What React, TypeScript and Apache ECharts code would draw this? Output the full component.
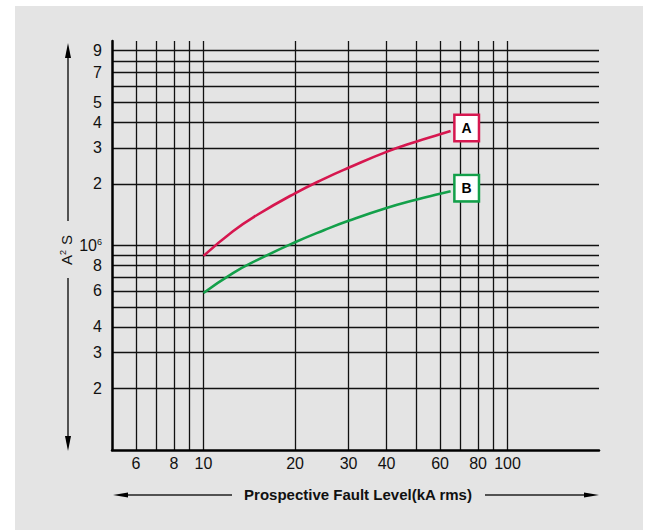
import React, { useEffect, useRef } from 'react';
import * as echarts from 'echarts';

// ---- data ----
const faultLevels = [10, 12.5, 15, 20, 25, 30, 40, 50, 60, 65]; // kA rms
const curveA = [8.9e5, 1.175e6, 1.41e6, 1.8e6, 2.125e6, 2.4e6, 2.87e6, 3.22e6, 3.5e6, 3.63e6];
const curveB = [5.86e5, 7.33e5, 8.48e5, 1.037e6, 1.191e6, 1.321e6, 1.526e6, 1.675e6, 1.792e6, 1.844e6];
const seriesNames = ['A', 'B'];
const seriesColors = ['#d6174f', '#13a04a'];

const xRange = [5, 200];
const yRange = [1e5, 1e7];
const xGridValues = [6, 7, 8, 9, 10, 20, 30, 40, 50, 60, 70, 80, 90, 100];
const xTickLabels = [6, 8, 10, 20, 30, 40, 60, 80, 100];
const yGridValues = [2e5, 3e5, 4e5, 5e5, 6e5, 7e5, 8e5, 9e5, 1e6, 2e6, 3e6, 4e6, 5e6, 6e6, 7e6, 8e6, 9e6];
const yTickLabels = [2e5, 3e5, 4e5, 6e5, 8e5, 1e6, 2e6, 3e6, 4e6, 5e6, 7e6, 9e6];
const xTitle = 'Prospective Fault Level(kA rms)';

const L = (v: number) => Math.log10(v);
const FONT = '"Liberation Sans", Arial, Helvetica, sans-serif';

export default function App() {
  const ref = useRef<HTMLDivElement>(null);

  useEffect(() => {
    if (!ref.current) return;
    const chart = echarts.init(ref.current, undefined, { renderer: 'svg' });

    const arrow = '#222';
    const makeSeries = (name: string, vals: number[], color: string, offY: number) => ({
      type: 'line',
      name,
      data: faultLevels.map((x, i) => [L(x), L(vals[i])]),
      showSymbol: false,
      smooth: 0.5,
      lineStyle: { color, width: 2.6 },
      itemStyle: { color },
      z: 5,
      endLabel: {
        show: true,
        formatter: name,
        distance: 5,
        offset: [0, offY],
        color: '#000',
        fontFamily: FONT,
        fontWeight: 'bold',
        fontSize: 14,
        backgroundColor: '#fff',
        borderColor: color,
        borderWidth: 2.5,
        padding: [5, 6, 5, 6],
      },
    });

    chart.setOption({
      animation: false,
      grid: { left: 112, right: 50, top: 41, bottom: 81, outerBoundsMode: 'none' },
      xAxis: {
        type: 'value',
        min: L(xRange[0]),
        max: L(xRange[1]),
        axisLine: { show: true, lineStyle: { color: '#000', width: 2.5 } },
        axisTick: { show: false, customValues: xGridValues.map(L) },
        splitLine: { show: true, lineStyle: { color: '#111', width: 1.3 } },
        axisLabel: {
          customValues: xTickLabels.map(L),
          formatter: (v: number) => String(Math.round(Math.pow(10, v))),
          color: '#111',
          fontFamily: FONT,
          fontSize: 16,
          margin: 5,
        },
      },
      yAxis: {
        type: 'value',
        min: L(yRange[0]),
        max: L(yRange[1]),
        axisLine: { show: true, lineStyle: { color: '#000', width: 2.5 } },
        axisTick: { show: false, customValues: yGridValues.map(L) },
        splitLine: { show: true, lineStyle: { color: '#111', width: 1.3 } },
        axisLabel: {
          customValues: yTickLabels.map(L),
          formatter: (v: number) => {
            const e = Math.floor(v + 1e-9);
            const m = Math.round(Math.pow(10, v - e));
            if (m === 1) return '10{sup|' + e + '}';
            return String(m);
          },
          color: '#111',
          fontFamily: FONT,
          fontSize: 16,
          margin: 10,
          rich: {
            sup: { fontSize: 9, fontFamily: FONT, color: '#111', verticalAlign: 'top', padding: [0, 0, 7, 0] },
          },
        },
      },
      series: [
        makeSeries(seriesNames[0], curveA, seriesColors[0], -3),
        makeSeries(seriesNames[1], curveB, seriesColors[1], -3),
      ],
      graphic: [
        { type: 'rect', z: -10, silent: true, shape: { x: 15, y: 6, width: 628, height: 524 }, style: { fill: '#e4e4e4' } },
        // y title + arrows
        { type: 'line', shape: { x1: 68, y1: 56, x2: 68, y2: 221 }, style: { stroke: arrow, lineWidth: 1.5 } },
        { type: 'polygon', shape: { points: [[68, 43], [65, 58], [71, 58]] }, style: { fill: '#000' } },
        { type: 'line', shape: { x1: 68, y1: 278, x2: 68, y2: 438 }, style: { stroke: arrow, lineWidth: 1.5 } },
        { type: 'polygon', shape: { points: [[68, 451], [65, 436], [71, 436]] }, style: { fill: '#000' } },
        {
          type: 'text',
          x: 66,
          y: 250,
          rotation: Math.PI / 2,
          style: {
            text: 'A{sup|2} S',
            fill: '#111',
            font: '15px ' + FONT,
            align: 'center',
            verticalAlign: 'middle',
            rich: {
              sup: { fontSize: 9, fontFamily: FONT, fill: '#111', verticalAlign: 'top', padding: [0, 1, 6, 0] },
            },
          },
        },
        // x title + arrows
        {
          type: 'text',
          x: 358,
          y: 494,
          style: {
            text: xTitle,
            fill: '#111',
            font: 'bold 15px ' + FONT,
            align: 'center',
            verticalAlign: 'middle',
          },
        },
        { type: 'line', shape: { x1: 126, y1: 495, x2: 232, y2: 495 }, style: { stroke: arrow, lineWidth: 1.5 } },
        { type: 'polygon', shape: { points: [[113, 495], [128, 492.5], [128, 497.5]] }, style: { fill: '#000' } },
        { type: 'line', shape: { x1: 485, y1: 495, x2: 586, y2: 495 }, style: { stroke: arrow, lineWidth: 1.5 } },
        { type: 'polygon', shape: { points: [[599, 495], [584, 492.5], [584, 497.5]] }, style: { fill: '#000' } },
      ],
    });

    return () => chart.dispose();
  }, []);

  return (
    <div
      ref={ref}
      style={{ position: 'absolute', left: 0, top: 0, width: 649, height: 531, background: '#fff' }}
    />
  );
}
